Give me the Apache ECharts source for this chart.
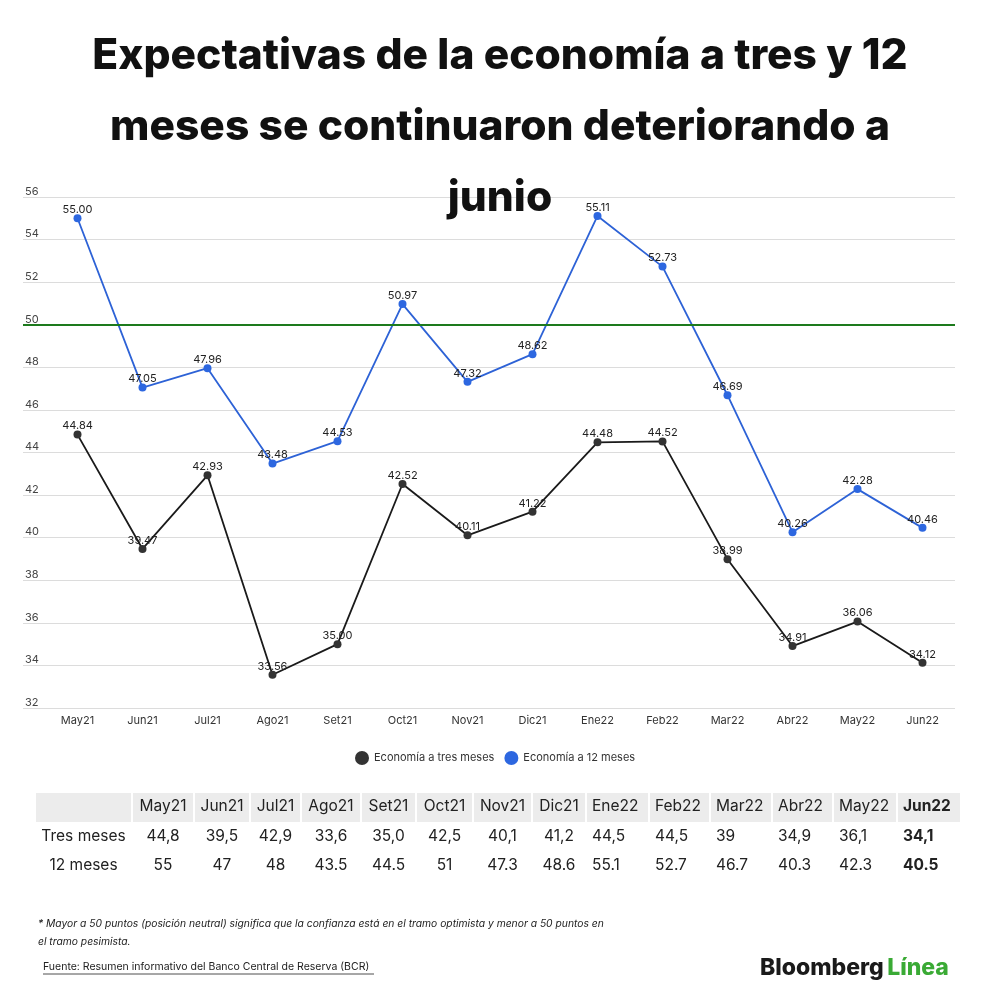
<!DOCTYPE html>
<html><head><meta charset="utf-8">
<script src="https://cdn.jsdelivr.net/npm/echarts@6/dist/echarts.min.js"></script>
<style>html,body{margin:0;padding:0;background:#fff}#c{width:1000px;height:1000px}</style>
</head><body><div id="c"></div>
<script>
const months = ['May21','Jun21','Jul21','Ago21','Set21','Oct21','Nov21','Dic21','Ene22','Feb22','Mar22','Abr22','May22','Jun22'];
const tresMeses = [44.84,39.47,42.93,33.56,35.00,42.52,40.11,41.22,44.48,44.52,38.99,34.91,36.06,34.12];
const doceMeses = [55.00,47.05,47.96,43.48,44.53,50.97,47.32,48.62,55.11,52.73,46.69,40.26,42.28,40.46];
const neutralLevel = 50;
const yTicks = {min:32, max:56, interval:2};
const tableTres = ['44,8','39,5','42,9','33,6','35,0','42,5','40,1','41,2','44,5','44,5','39','34,9','36,1','34,1'];
const tableDoce = ['55','47','48','43.5','44.5','51','47.3','48.6','55.1','52.7','46.7','40.3','42.3','40.5'];
const rowLabels = ['Tres meses','12 meses'];
const titleLines = ['Expectativas de la economía a tres y 12','meses se continuaron deteriorando a','junio'];

const FONT = 'Inter';
const chart = echarts.init(document.getElementById('c'));

const graphic = [];
// title
graphic.push({type:'text', x:500, y:21, z:100, style:{text:titleLines.join('\n'), font:'800 42.5px '+FONT, lineHeight:71, fill:'#111', align:'center', verticalAlign:'top'}});

// table layout
const colEdges = [36,133,195,251,302,362,417,474,533,587,650,711,773,834,898,962];
const leftAlignFrom = 8;
const hdrTop = 793, hdrH = 29;
const rowY = [806, 836, 865];
for (let c = 0; c < colEdges.length - 1; c++) {
  const x0 = colEdges[c], x1 = colEdges[c+1] - 2;
  graphic.push({type:'rect', shape:{x:x0, y:hdrTop, width:x1-x0, height:hdrH}, style:{fill:'#ececec'}, silent:true});
}
for (let r = 0; r < rowLabels.length; r++) {
  graphic.push({type:'text', x:(colEdges[0]+colEdges[1]-2)/2, y:rowY[r+1], style:{text:rowLabels[r], font:'400 15.5px '+FONT, fill:'#222', align:'center', verticalAlign:'middle'}});
}
for (let i = 0; i < months.length; i++) {
  const x0 = colEdges[i+1], x1 = colEdges[i+2] - 2;
  const cx = (x0 + x1) / 2;
  const bold = i === months.length - 1;
  const w = bold ? 700 : 400;
  const leftAl = i >= leftAlignFrom;
  const hx = leftAl ? x0 + 5 : cx;
  const al = leftAl ? 'left' : 'center';
  graphic.push({type:'text', x:hx, y:rowY[0], style:{text:months[i], font:w+' 15.5px '+FONT, fill:'#222', align:al, verticalAlign:'middle'}});
  graphic.push({type:'text', x:hx, y:rowY[1], style:{text:tableTres[i], font:w+' 15.5px '+FONT, fill:'#222', align:al, verticalAlign:'middle'}});
  graphic.push({type:'text', x:hx, y:rowY[2], style:{text:tableDoce[i], font:w+' 15.5px '+FONT, fill:'#222', align:al, verticalAlign:'middle'}});
}
// footnote & source & logo
graphic.push({type:'text', x:38, y:924, style:{text:'* Mayor a 50 puntos (posición neutral) significa que la confianza está en el tramo optimista y menor a 50 puntos en', font:'italic 400 10.3px '+FONT, fill:'#222', verticalAlign:'middle'}});
graphic.push({type:'text', x:38, y:942, style:{text:'el tramo pesimista.', font:'italic 400 10.3px '+FONT, fill:'#222', verticalAlign:'middle'}});
graphic.push({type:'text', x:43, y:967, style:{text:'Fuente: Resumen informativo del Banco Central de Reserva (BCR)', font:'400 10.5px '+FONT, fill:'#222', verticalAlign:'middle'}});
graphic.push({type:'line', shape:{x1:43, y1:974, x2:374, y2:974}, style:{stroke:'#222', lineWidth:0.8}});
graphic.push({type:'text', x:760, y:968, style:{text:'{b|Bloomberg} {g|Línea}', verticalAlign:'middle', rich:{
  b:{font:'800 23px '+FONT, fill:'#1a1a1a'}, g:{font:'800 23px '+FONT, fill:'#3aaa35'}}}});

const ptLabel = {show:true, position:'top', distance:0, offset:[0,1], fontFamily:FONT, fontSize:11, color:'#222', formatter:p=>p.value.toFixed(2)};

const option = {
  backgroundColor:'#fff',
  legend:{
    data:['Economía a tres meses','Economía a 12 meses'],
    left:350, top:746, icon:'circle', itemWidth:14, itemHeight:14, itemGap:10,
    textStyle:{fontFamily:FONT, fontSize:11, color:'#333'}
  },
  grid:[
    {left:23, right:45, top:197, bottom:292},
    {left:45, right:45, top:197, bottom:292}
  ],
  xAxis:[
    {gridIndex:0, type:'value', min:0, max:1, show:false},
    {gridIndex:1, type:'category', data:months, boundaryGap:true,
     axisLine:{show:false}, axisTick:{show:false},
     axisLabel:{color:'#333', fontFamily:FONT, fontSize:11, margin:7}}
  ],
  yAxis:[
    {gridIndex:0, type:'value', min:yTicks.min, max:yTicks.max, interval:yTicks.interval,
     axisLine:{show:false}, axisTick:{show:false},
     axisLabel:{inside:true, margin:2, verticalAlign:'bottom', color:'#444', fontFamily:FONT, fontSize:11, padding:[0,0,0,0]},
     splitLine:{lineStyle:{color:'#dcdcdc', width:1}}},
    {gridIndex:1, type:'value', min:yTicks.min, max:yTicks.max, interval:yTicks.interval, show:false, splitLine:{show:false}}
  ],
  series:[
    {type:'line', xAxisIndex:0, yAxisIndex:0, data:[], silent:true,
     markLine:{symbol:'none', silent:true, label:{show:false},
       lineStyle:{color:'#1d7a1d', width:2, type:'solid'}, data:[{yAxis:neutralLevel}]}},
    {name:'Economía a tres meses', type:'line', xAxisIndex:1, yAxisIndex:1, data:tresMeses,
     symbol:'circle', symbolSize:8, color:'#333',
     lineStyle:{color:'#1a1a1a', width:1.8}, itemStyle:{color:'#333'}, label:ptLabel},
    {name:'Economía a 12 meses', type:'line', xAxisIndex:1, yAxisIndex:1, data:doceMeses,
     symbol:'circle', symbolSize:8, color:'#2d67e0',
     lineStyle:{color:'#2d62d6', width:1.8}, itemStyle:{color:'#2d67e0'}, label:ptLabel}
  ],
  graphic: graphic,
  animation:false
};
chart.setOption(option);
</script></body></html>
